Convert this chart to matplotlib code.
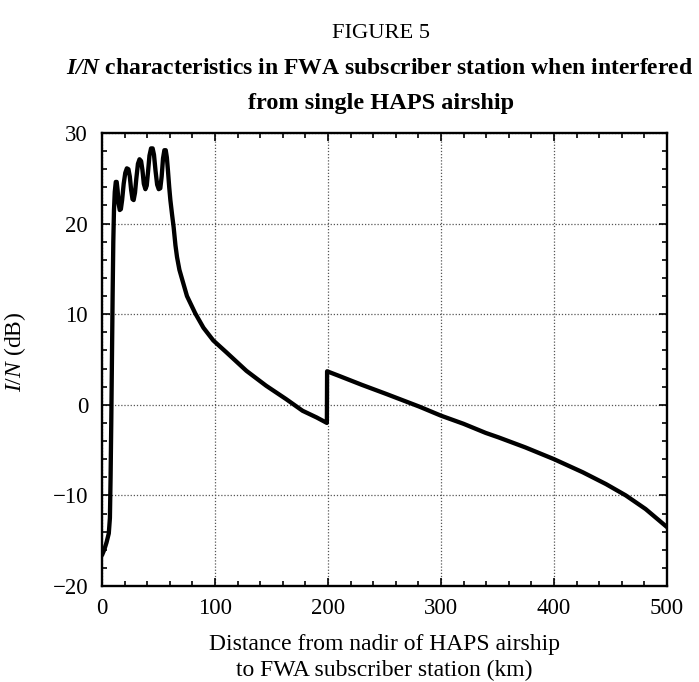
import matplotlib
matplotlib.use("Agg")
import matplotlib.pyplot as plt
from matplotlib.ticker import MultipleLocator

plt.rcParams['font.family'] = ['Liberation Serif', 'DejaVu Serif']
plt.rcParams['mathtext.fontset'] = 'custom'
plt.rcParams['mathtext.rm'] = 'Liberation Serif'
plt.rcParams['mathtext.it'] = 'Liberation Serif:italic'
plt.rcParams['mathtext.bf'] = 'Liberation Serif:bold'
plt.rcParams['mathtext.bfit'] = 'Liberation Serif:italic:bold'

# Distance from nadir (km) and I/N (dB)
distance_km = [0, 2, 4, 6, 7, 7.6, 8.2, 8.8, 9.4, 10, 10.6, 11.3, 12.2, 13.0, 13.8,
               14.7, 15.7, 16.7, 17.8, 19.2, 20.6, 22.0, 23.4, 24.6, 25.8, 27.0,
               28.0, 29.2, 30.4, 31.8, 33.2, 34.6, 35.8, 37.0, 38.4, 39.6, 40.8,
               42.0, 43.4, 44.8, 46.0, 47.4, 48.8, 50.2, 51.6, 52.8, 54.0, 55.2,
               56.4, 57.4, 58.4, 59.5, 60.5, 62.0, 63.4, 65.0, 66.4, 68.5, 70.8,
               75.2, 82.5, 89.8, 98.5, 110, 127.8, 145.3, 162.9, 177.5, 190, 199.0,
               199.2, 209.6, 230, 251.5, 280.8, 300, 320, 339.5, 351, 374.6, 400,
               425.5, 446, 463.5, 481, 500]
in_db = [-16.6, -16.0, -15.2, -14.2, -12.5, -8.0, -2.0, 5.0, 12.0, 18.0, 21.5, 23.5,
         24.6, 24.6, 23.7, 22.2, 21.5, 21.6, 22.6, 24.4, 25.6, 26.1, 26.0, 25.2,
         23.7, 22.7, 22.6, 23.4, 25.0, 26.6, 27.1, 26.9, 25.9, 24.4, 23.8, 24.2,
         25.8, 27.5, 28.3, 28.3, 27.6, 25.8, 24.3, 23.8, 23.9, 25.2, 27.2, 28.1,
         28.1, 27.3, 25.8, 24.0, 22.6, 21.0, 19.6, 17.6, 16.3, 14.9, 13.9, 12.0,
         10.1, 8.5, 7.1, 5.8, 3.75, 2.1, 0.63, -0.66, -1.4, -2.0,
         3.7, 3.2, 2.2, 1.2, -0.2, -1.2, -2.1, -3.1, -3.6, -4.7, -6.0,
         -7.45, -8.75, -10.0, -11.5, -13.5]

x_ticks = [0, 100, 200, 300, 400, 500]
y_ticks = [-20, -10, 0, 10, 20, 30]

W, H = 699, 682
fig = plt.figure(figsize=(W / 100, H / 100), dpi=100)
ax = fig.add_axes([102 / W, 1 - 586 / H, (667 - 102) / W, (586 - 133) / H])

ax.plot(distance_km, in_db, color='black', lw=3.1, solid_joinstyle='round',
        solid_capstyle='round')

ax.set_xlim(0, 500)
ax.set_ylim(-20, 30)
ax.set_xticks(x_ticks)
ax.set_yticks(y_ticks)
ax.xaxis.set_minor_locator(MultipleLocator(20))
ax.yaxis.set_minor_locator(MultipleLocator(2))
ax.tick_params(which='both', direction='in', top=True, right=True, width=1.2,
               labelsize=16.5, colors='black')
ax.tick_params(which='major', length=5.5)
ax.tick_params(which='minor', length=3.5)
ax.tick_params(axis='x', which='major', pad=9)
ax.tick_params(axis='y', which='major', pad=10)
for s in ax.spines.values():
    s.set_linewidth(1.7)
ax.grid(True, which='major', linestyle=(0, (1, 1.5)), color='#555555', lw=0.9)

fig.text(381 / W, 1 - 38 / H, 'FIGURE 5', ha='center', va='baseline', fontsize=16.2)
fig.text(380 / W, 1 - 74 / H,
         r'$\mathbfit{I/N}$ characteristics in FWA subscriber station when interfered',
         ha='center', va='baseline', fontsize=17.0, fontweight='bold')
fig.text(381 / W, 1 - 108.5 / H, 'from single HAPS airship', ha='center',
         va='baseline', fontsize=17.5, fontweight='bold')

fig.text(384.5 / W, 1 - 650 / H, 'Distance from nadir of HAPS airship',
         ha='center', va='baseline', fontsize=17)
fig.text(384.5 / W, 1 - 676 / H, 'to FWA subscriber station (km)',
         ha='center', va='baseline', fontsize=17)
fig.text(15 / W, 1 - 352 / H, r'$\mathit{I/N}$ (dB)', rotation=90,
         ha='center', va='center', fontsize=17)

fig.savefig('out.png', dpi=100)
